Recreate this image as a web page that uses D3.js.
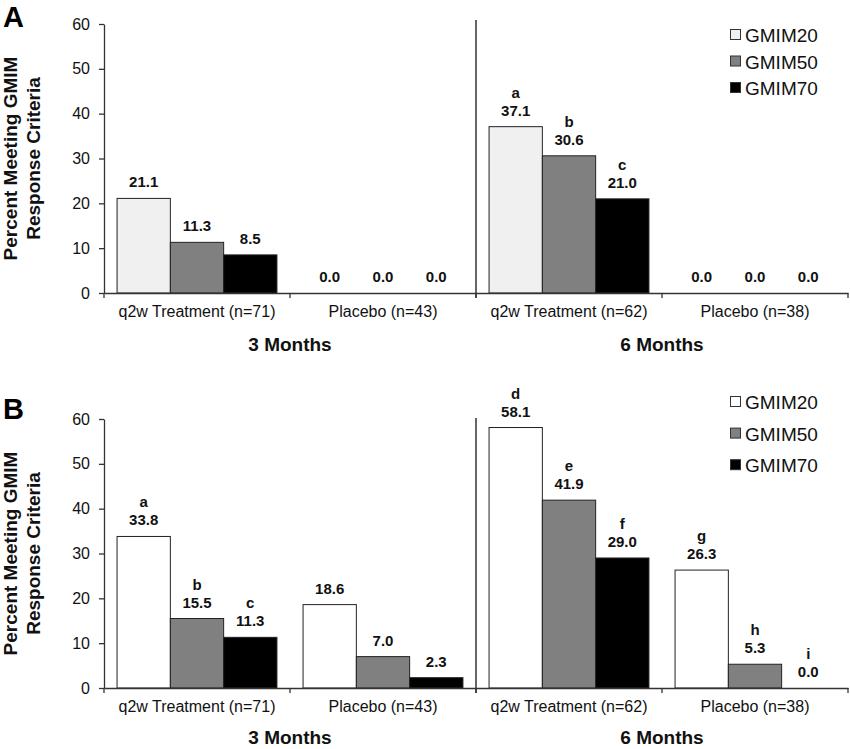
<!DOCTYPE html>
<html>
<head>
<meta charset="utf-8">
<script src="https://cdn.jsdelivr.net/npm/d3@7"></script>
<style>
  body { margin: 0; background: #fff; }
  svg { display: block; font-family: "Liberation Sans", Arial, Helvetica, sans-serif; }
</style>
</head>
<body>
<svg id="chart" width="850" height="749"></svg>
<script>
// ---- Data ----
const categories = ["q2w Treatment (n=71)", "Placebo (n=43)", "q2w Treatment (n=62)", "Placebo (n=38)"];
const catKeys = ["T3", "P3", "T6", "P6"];
const periods = ["3 Months", "6 Months"];
const series = ["GMIM20", "GMIM50", "GMIM70"];
const yTicks = [0, 10, 20, 30, 40, 50, 60];

// Panel A values (rows = categories, cols = series)
const panelA_GMIM20 = [21.1, 0.0, 37.1, 0.0];
const panelA_GMIM50 = [11.3, 0.0, 30.6, 0.0];
const panelA_GMIM70 = [8.5, 0.0, 21.0, 0.0];
const panelA_letters20 = ["", "", "a", ""];
const panelA_letters50 = ["", "", "b", ""];
const panelA_letters70 = ["", "", "c", ""];

// Panel B values
const panelB_GMIM20 = [33.8, 18.6, 58.1, 26.3];
const panelB_GMIM50 = [15.5, 7.0, 41.9, 5.3];
const panelB_GMIM70 = [11.3, 2.3, 29.0, 0.0];
const panelB_letters20 = ["a", "", "d", "g"];
const panelB_letters50 = ["b", "", "e", "h"];
const panelB_letters70 = ["c", "", "f", "i"];

const colorsA = ["#f0f0f0", "#808080", "#000000"];
const colorsB = ["#ffffff", "#808080", "#000000"];

const svg = d3.select("#chart");

function drawPanel(cfg) {
  const g = svg.append("g");
  const x = d3.scaleBand().domain(catKeys).range([104, 848]).paddingInner(0).paddingOuter(0);
  const xs = d3.scaleBand().domain(series).range([0, x.bandwidth()]).paddingInner(0).paddingOuter(0.245);
  const y = d3.scaleLinear().domain([0, 60]).range([cfg.bottom, cfg.top]);

  const vals = [cfg.v20, cfg.v50, cfg.v70];
  const lets = [cfg.l20, cfg.l50, cfg.l70];
  const rows = [];
  catKeys.forEach((c, i) => {
    series.forEach((s, j) => {
      rows.push({ cat: c, ser: s, j: j, v: vals[j][i], letter: lets[j][i] });
    });
  });

  // bars
  g.selectAll("rect.bar").data(rows.filter(d => d.v > 0)).join("rect")
    .attr("class", "bar")
    .attr("x", d => x(d.cat) + xs(d.ser))
    .attr("y", d => y(d.v))
    .attr("width", xs.bandwidth())
    .attr("height", d => y(0) - y(d.v))
    .attr("fill", d => cfg.colors[d.j])
    .attr("stroke", "#222")
    .attr("stroke-width", 1);

  // value labels
  g.selectAll("text.val").data(rows).join("text")
    .attr("class", "val")
    .attr("x", d => x(d.cat) + xs(d.ser) + xs.bandwidth() / 2)
    .attr("y", d => y(d.v) - 11)
    .attr("text-anchor", "middle")
    .attr("font-size", 15).attr("font-weight", "bold").attr("fill", "#111")
    .text(d => d.v.toFixed(1));

  g.selectAll("text.let").data(rows.filter(d => d.letter)).join("text")
    .attr("class", "let")
    .attr("x", d => x(d.cat) + xs(d.ser) + xs.bandwidth() / 2)
    .attr("y", d => y(d.v) - 29)
    .attr("text-anchor", "middle")
    .attr("font-size", 15).attr("font-weight", "bold").attr("fill", "#111")
    .text(d => d.letter);

  // y axis
  const yAxis = g.append("g").attr("transform", "translate(104,0)")
    .call(d3.axisLeft(y).tickValues(yTicks).tickSize(5).tickPadding(9).tickSizeOuter(0));
  yAxis.select(".domain").attr("stroke", "#333").attr("stroke-width", 1.3);
  yAxis.selectAll(".tick line").attr("stroke", "#333").attr("stroke-width", 1.3);
  yAxis.selectAll(".tick text").attr("font-size", 16).attr("fill", "#111")
    .attr("font-family", "'Liberation Sans', Arial, sans-serif");

  // x axis
  const xAxis = g.append("g").attr("transform", `translate(0,${cfg.bottom})`)
    .call(d3.axisBottom(x).tickSize(0).tickPadding(13).tickFormat((d, i) => categories[i]).tickSizeOuter(0));
  xAxis.select(".domain").attr("stroke", "#333").attr("stroke-width", 1.3);
  xAxis.selectAll(".tick text").attr("font-size", 16).attr("fill", "#111")
    .attr("font-family", "'Liberation Sans', Arial, sans-serif");

  // category boundary ticks
  const bounds = [x.range()[0], ...catKeys.slice(1).map(c => x(c)), x.range()[1]];
  g.selectAll("line.bnd").data(bounds).join("line")
    .attr("class", "bnd")
    .attr("x1", d => d).attr("x2", d => d)
    .attr("y1", cfg.bottom).attr("y2", cfg.bottom + 5)
    .attr("stroke", "#333").attr("stroke-width", 1.3);

  // period divider
  const divX = x("T6");
  g.append("line")
    .attr("x1", divX).attr("x2", divX)
    .attr("y1", y(60) - cfg.divExtra).attr("y2", cfg.bottom + 5)
    .attr("stroke", "#333").attr("stroke-width", 1.5);

  // period labels
  const periodCenters = [(x("T3") + x("P3") + x.bandwidth()) / 2, (x("T6") + x("P6") + x.bandwidth()) / 2];
  g.selectAll("text.period").data(periods).join("text")
    .attr("class", "period")
    .attr("x", (d, i) => periodCenters[i])
    .attr("y", cfg.bottom + cfg.periodOff)
    .attr("text-anchor", "middle")
    .attr("font-size", 19).attr("font-weight", "bold").attr("fill", "#111")
    .text(d => d);

  // y title
  const cy = (cfg.top + cfg.bottom) / 2;
  const yt = g.append("text")
    .attr("transform", `translate(0,${cy}) rotate(-90)`)
    .attr("text-anchor", "middle")
    .attr("font-size", 19).attr("font-weight", "bold").attr("fill", "#111");
  yt.append("tspan").attr("x", 0).attr("y", 17).text("Percent Meeting GMIM");
  yt.append("tspan").attr("x", 0).attr("y", 40).text("Response Criteria");

  // panel letter
  g.append("text").attr("x", 3).attr("y", cfg.letterY)
    .attr("font-size", 29).attr("font-weight", "bold").attr("fill", "#000")
    .text(cfg.letter);

  // legend
  const lg = g.selectAll("g.leg").data(series).join("g")
    .attr("class", "leg")
    .attr("transform", (d, i) => `translate(730,${cfg.legY + i * cfg.legStep})`);
  lg.append("rect").attr("x", 0.5).attr("y", -5.5).attr("width", 10).attr("height", 10)
    .attr("fill", (d, i) => cfg.colors[i]).attr("stroke", "#333").attr("stroke-width", 1);
  lg.append("text").attr("x", 15).attr("y", 7)
    .attr("font-size", 19).attr("fill", "#111")
    .text(d => d);
}

drawPanel({
  top: 24, bottom: 293, divExtra: 4, periodOff: 58,
  v20: panelA_GMIM20, v50: panelA_GMIM50, v70: panelA_GMIM70,
  l20: panelA_letters20, l50: panelA_letters50, l70: panelA_letters70,
  colors: colorsA, letter: "A", letterY: 27, legY: 35, legStep: 26.5
});

drawPanel({
  top: 419, bottom: 688, divExtra: 1, periodOff: 56,
  v20: panelB_GMIM20, v50: panelB_GMIM50, v70: panelB_GMIM70,
  l20: panelB_letters20, l50: panelB_letters50, l70: panelB_letters70,
  colors: colorsB, letter: "B", letterY: 419, legY: 402, legStep: 31.6
});
</script>
</body>
</html>
